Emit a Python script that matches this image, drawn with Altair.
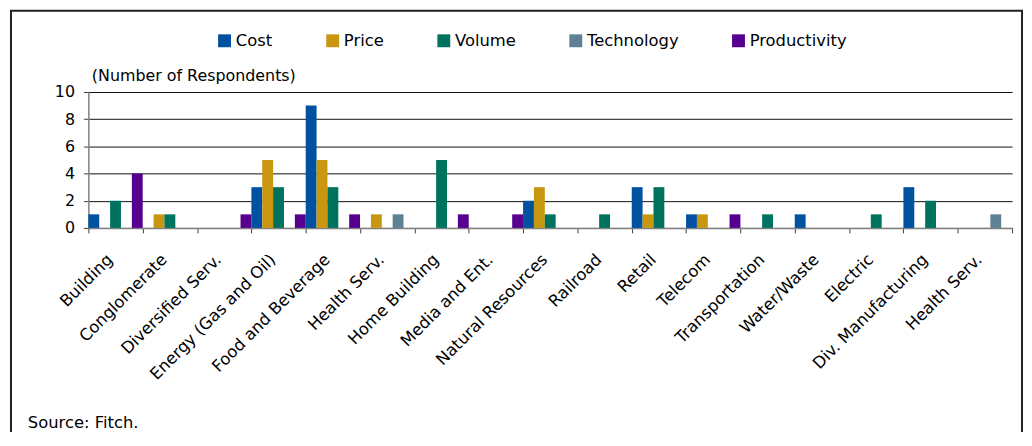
import json
import altair as alt
import pandas as pd

categories = ["Building", "Conglomerate", "Diversified Serv.", "Energy (Gas and Oil)",
              "Food and Beverage", "Health Serv.", "Home Building", "Media and Ent.",
              "Natural Resources", "Railroad", "Retail", "Telecom", "Transportation",
              "Water/Waste", "Electric", "Div. Manufacturing", "Health Serv."]
series = ["Cost", "Price", "Volume", "Technology", "Productivity"]
cost = [1, 0, 0, 3, 9, 0, 0, 0, 2, 0, 3, 1, 0, 1, 0, 3, 0]
price = [0, 1, 0, 5, 5, 1, 0, 0, 3, 0, 1, 1, 0, 0, 0, 0, 0]
volume = [2, 1, 0, 3, 3, 0, 5, 0, 1, 1, 3, 0, 1, 0, 1, 2, 0]
technology = [0, 0, 0, 0, 0, 1, 0, 0, 0, 0, 0, 0, 0, 0, 0, 0, 1]
productivity = [4, 0, 1, 1, 1, 0, 1, 1, 0, 0, 0, 1, 0, 0, 0, 0, 0]
colors = ["#0052A0", "#C8960F", "#00735F", "#5F8196", "#570090"]
y_ticks = [0, 2, 4, 6, 8, 10]
y_title = "(Number of Respondents)"
source_note = ["Source: Fitch."]

values_by_series = [cost, price, volume, technology, productivity]
rows = []
for s, vals in zip(series, values_by_series):
    for i, v in enumerate(vals):
        rows.append({"idx": i, "series": s, "value": v})
df = pd.DataFrame(rows)

FONT = "DejaVu Sans"
label_expr = json.dumps(categories) + "[datum.value]"

bars = alt.Chart(df).mark_bar(strokeWidth=0).encode(
    x=alt.X(
        "idx:O",
        scale=alt.Scale(paddingInner=0, paddingOuter=0),
        axis=alt.Axis(
            title=None,
            labelExpr=label_expr,
            labelAngle=-45,
            labelAlign="right",
            labelBaseline="middle",
            labelPadding=24,
            labelOffset=-6,
            labelFontSize=16.5,
            labelLimit=400,
            labelOverlap=False,
            tickBand="extent",
            tickSize=5,
            tickColor="#404040",
            domainColor="#808080",
            domainWidth=1.5,
            grid=False,
        ),
    ),
    xOffset=alt.XOffset("series:N", sort=series,
                        scale=alt.Scale(domain=series, paddingInner=0, paddingOuter=0)),
    y=alt.Y(
        "value:Q",
        scale=alt.Scale(domain=[0, 10]),
        axis=alt.Axis(
            values=y_ticks,
            title=y_title,
            titleAngle=0,
            titleAlign="left",
            titleBaseline="alphabetic",
            titleX=3,
            titleY=-12,
            titleFontSize=16,
            titleFontWeight="normal",
            labelFontSize=16,
            labelPadding=9,
            tickSize=5,
            tickColor="#404040",
            domainColor="#808080",
            domainWidth=1.5,
            grid=True,
            gridColor="#111111",
            gridWidth=1,
        ),
    ),
    color=alt.Color(
        "series:N",
        scale=alt.Scale(domain=series, range=colors),
        legend=alt.Legend(
            title=None,
            orient="none",
            legendX=129,
            legendY=-60,
            direction="horizontal",
            symbolType="square",
            symbolSize=169,
            symbolStrokeWidth=0,
            labelFontSize=16.5,
            labelOffset=3,
            columnPadding=52,
            padding=0,
        ),
    ),
)

frame = alt.Chart(pd.DataFrame({"f": [0]})).mark_rect(
    fillOpacity=0, stroke="#222222", strokeWidth=2
).encode(
    x=alt.value(-78), x2=alt.value(941), y=alt.value(-82), y2=alt.value(420)
)

source = alt.Chart(pd.DataFrame({"t": source_note})).mark_text(
    align="left", baseline="alphabetic", fontSize=16.5, font=FONT, color="#000000"
).encode(x=alt.value(-61), y=alt.value(339), text="t:N")

chart = alt.layer(frame, bars, source).properties(
    width=931,
    height=137,
    autosize=alt.AutoSizeParams(type="none"),
    padding={"left": 81, "top": 83, "right": 12, "bottom": 204},
).configure_view(strokeWidth=0).configure_axis(
    labelFont=FONT, titleFont=FONT, labelColor="#000000", titleColor="#000000"
).configure_legend(labelFont=FONT, labelColor="#000000")

chart.save("out.html", embed_options={"renderer": "svg", "actions": False})
